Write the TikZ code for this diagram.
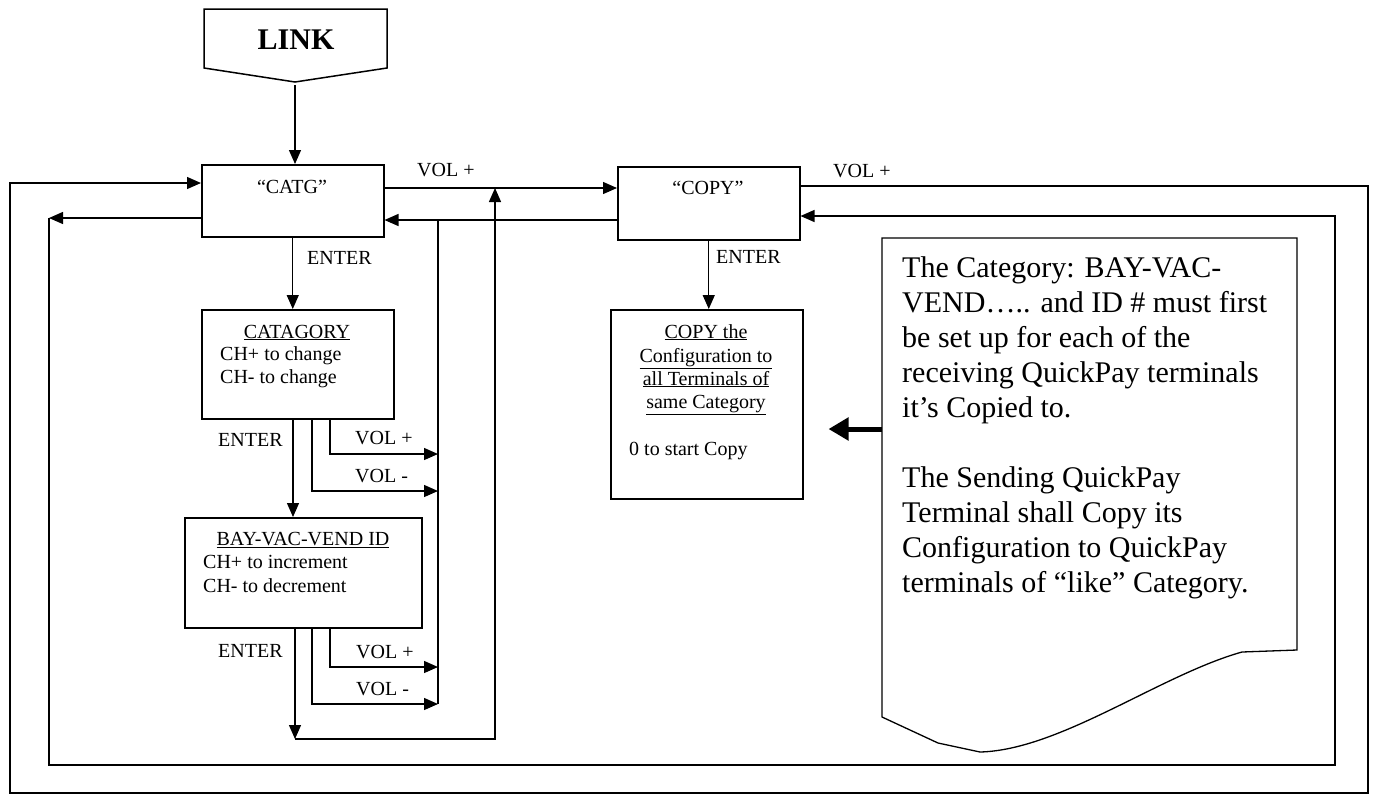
\documentclass[tikz,border=0pt]{standalone}
\usepackage{fontspec}
\setmainfont{Liberation Serif}
\usetikzlibrary{arrows.meta}
\begin{document}
\begin{tikzpicture}[x=1pt,y=-1pt,
  box/.style={draw, line width=1.5pt, anchor=north west, inner sep=0pt},
  arr/.style={line width=1.3pt, -{Triangle[length=14pt,width=12pt]}},
  ln/.style={line width=1.3pt},
  lbl/.style={anchor=base west, inner sep=0pt, font=\fontsize{20}{23}\selectfont},
  clbl/.style={lbl, anchor=base},
  thick arrow/.style={line width=5pt, -{Triangle[length=20pt,width=22pt]}}]
\useasboundingbox (0,0) rectangle (1378,796);

% LINK off-page connector
\draw[line width=1.5pt] (204,9) -- (387,9) -- (387,68) -- (295,82) -- (204,68) -- cycle;
\node[anchor=base, inner sep=0pt, font=\fontsize{30}{34}\selectfont\bfseries] (linktxt) at (296,49) {LINK};
\coordinate (link) at (295,85);

% boxes
\node[box, minimum width=182pt, minimum height=72pt] (catg) at (201,164) {};
\node[box, minimum width=182pt, minimum height=73pt] (copy) at (617,166) {};
\node[box, minimum width=192pt, minimum height=109pt] (cat) at (201,309) {};
\node[box, minimum width=237pt, minimum height=110pt] (bay) at (184,517) {};
\node[box, minimum width=192pt, minimum height=189pt] (cfg) at (610,309) {};

% box texts
\node[clbl] (catgt) at (292,193) {“CATG”};
\node[clbl] (copyt) at (708,194) {“COPY”};
\node[clbl] (catt1) at (297,338) {\underline{CATAGORY}};
\node[lbl] (catt2) at (220,360) {CH+ to change};
\node[lbl] (catt3) at (220,383) {CH- to change};
\node[clbl] (bayt1) at (303,545) {\underline{BAY-VAC-VEND ID}};
\node[lbl] (bayt2) at (203,568) {CH+ to increment};
\node[lbl] (bayt3) at (203,592) {CH- to decrement};
\node[clbl] (cfgt1) at (706,338) {\underline{COPY the}};
\node[clbl] (cfgt2) at (706,362) {\underline{Configuration to}};
\node[clbl] (cfgt3) at (706,385) {\underline{all Terminals of}};
\node[clbl] (cfgt4) at (706,408) {\underline{same Category}};
\node[lbl] (cfgt5) at (629,455) {0 to start Copy};

% connector labels
\node[lbl] (l1) at (307,264) {ENTER};
\node[lbl] (l2) at (218,446) {ENTER};
\node[lbl] (l3) at (355,444) {VOL +};
\node[lbl] (l4) at (355,482) {VOL -};
\node[lbl] (l5) at (218,657) {ENTER};
\node[lbl] (l6) at (356,658) {VOL +};
\node[lbl] (l7) at (356,695) {VOL -};
\node[lbl] (l8) at (716,263) {ENTER};
\node[lbl] (l9) at (417,176) {VOL +};
\node[lbl] (l10) at (833,177) {VOL +};

% routing coordinates
\coordinate (yA) at (0,188);
\coordinate (yB) at (0,220);
\coordinate (xE) at (293,0);
\coordinate (xM) at (312,0);
\coordinate (xP) at (330,0);
\coordinate (xV) at (438,0);
\coordinate (xU) at (495,0);
\coordinate (cm) at (438,491);
\coordinate (cp) at (438,454);
\coordinate (bm) at (438,704);
\coordinate (bp) at (438,667);
\coordinate (bend) at (295,739);
\coordinate (oR) at (1368,186);
\coordinate (oB) at (10,793);
\coordinate (oL) at (10,183);
\coordinate (iL) at (49,218);
\coordinate (iB) at (1335,765);
\coordinate (iR) at (1335,216);

% connectors
\draw[arr] (link) -- (link |- catg.north);
\draw[arr] (catg.east |- yA) -- (copy.west |- yA);
\draw[arr] (copy.west |- yB) -- (catg.east |- yB);
\draw[arr] (catg.south) -- (catg.south |- cat.north);
\draw[arr] (cat.south -| xE) -- (bay.north -| xE);
\draw[arr] (cat.south -| xM) |- (cm);
\draw[arr] (cat.south -| xP) |- (cp);
\draw[arr] (bay.south -| xM) |- (bm);
\draw[arr] (bay.south -| xP) |- (bp);
\draw[ln] (xV |- yB) -- (bm);
\draw[arr] (bay.south -| bend) -- (bend);
\draw[arr] (bend) -| (xU |- yA);
\draw[arr] (copy.south) -- (copy.south |- cfg.north);
% outer loop
\draw[arr] (copy.east |- oR) -- (oR) |- (oB) -- (oL) -- (catg.west |- oL);
% inner loop
\draw[arr] (catg.west |- iL) -- (iL);
\draw[arr] (iL) |- (iB) -- (iR) -- (copy.east |- iR);

% note
\draw[line width=1.3pt] (882,238) -- (1297,238) -- (1297,650) -- (1242,652)
  .. controls (1160,675) and (1060,750) .. (980,752) -- (938,743) -- (882,717) -- cycle;
\coordinate (notew) at (882,429);
\node[anchor=base west, inner sep=0pt, font=\fontsize{30}{35}\selectfont] (notetxt) at (902,277)
 {\begin{tabular}[t]{@{}l@{}}The Category: BAY-VAC-\\
 VEND….. and ID \# must first\\
 be set up for each of the\\
 receiving QuickPay terminals\\
 it’s Copied to.\\
 \\
 The Sending QuickPay\\
 Terminal shall Copy its\\
 Configuration to QuickPay\\
 terminals of “like” Category.\end{tabular}};
\draw[thick arrow] (notew) -- ([xshift=25pt]cfg.east |- notew);
\end{tikzpicture}
\end{document}
